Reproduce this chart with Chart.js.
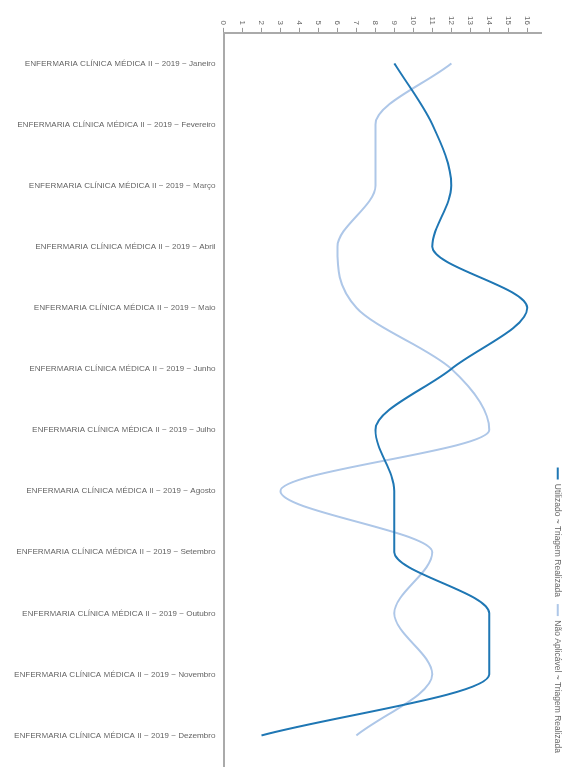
<!DOCTYPE html>
<html>
<head>
<meta charset="utf-8">
<script src="https://cdn.jsdelivr.net/npm/chart.js@4/dist/chart.umd.min.js"></script>
<style>
  html, body { margin: 0; padding: 0; background: #fff; }
  #page { position: relative; width: 571px; height: 779px; overflow: hidden; background: #fff; }
  #rot { position: absolute; left: 0; top: 0; width: 779px; height: 571px;
         transform-origin: 0 0; transform: translate(571px, 0) rotate(90deg); }
</style>
</head>
<body>
<div id="page">
  <div id="rot"><canvas id="c" width="779" height="571"></canvas></div>
</div>
<script>
const categories = [
  "ENFERMARIA CLÍNICA MÉDICA II ~ 2019 ~ Janeiro",
  "ENFERMARIA CLÍNICA MÉDICA II ~ 2019 ~ Fevereiro",
  "ENFERMARIA CLÍNICA MÉDICA II ~ 2019 ~ Março",
  "ENFERMARIA CLÍNICA MÉDICA II ~ 2019 ~ Abril",
  "ENFERMARIA CLÍNICA MÉDICA II ~ 2019 ~ Maio",
  "ENFERMARIA CLÍNICA MÉDICA II ~ 2019 ~ Junho",
  "ENFERMARIA CLÍNICA MÉDICA II ~ 2019 ~ Julho",
  "ENFERMARIA CLÍNICA MÉDICA II ~ 2019 ~ Agosto",
  "ENFERMARIA CLÍNICA MÉDICA II ~ 2019 ~ Setembro",
  "ENFERMARIA CLÍNICA MÉDICA II ~ 2019 ~ Outubro",
  "ENFERMARIA CLÍNICA MÉDICA II ~ 2019 ~ Novembro",
  "ENFERMARIA CLÍNICA MÉDICA II ~ 2019 ~ Dezembro"
];
const seriesNames = ["Utilizado ~ Triagem Realizada", "Não Aplicável ~ Triagem Realizada"];
const utilizado = [9, 11, 12, 11, 16, 12, 8, 9, 9, 14, 14, 2];
const naoAplicavel = [12, 8, 8, 6, 7, 12, 14, 3, 11, 9, 11, 7];
const valueTicks = [0,1,2,3,4,5,6,7,8,9,10,11,12,13,14,15,16];
const valueMax = 16.75;

Chart.defaults.font.family = "'Liberation Sans', Arial, sans-serif";
Chart.defaults.font.size = 8;
Chart.defaults.color = "#666";

const legendShift = {
  id: 'legendShift',
  afterInit(chart) {
    const lg = chart.legend;
    if (lg) {
      const origFit = lg.fit.bind(lg);
      lg.fit = function () { origFit(); this.height += 2; };
    }
  },
  afterLayout(chart) {
    const lg = chart.legend;
    if (lg) { lg.left -= 6; lg.right -= 6; }
  }
};

new Chart(document.getElementById('c'), {
  type: 'line',
  data: {
    labels: categories,
    datasets: [
      { label: seriesNames[0], data: utilizado, borderColor: '#1f77b4', backgroundColor: '#1f77b4',
        borderWidth: 2, pointRadius: 0, cubicInterpolationMode: 'monotone', fill: false },
      { label: seriesNames[1], data: naoAplicavel, borderColor: '#aec7e8', backgroundColor: '#aec7e8',
        borderWidth: 2, pointRadius: 0, cubicInterpolationMode: 'monotone', fill: false }
    ]
  },
  plugins: [legendShift],
  options: {
    responsive: false,
    animation: false,
    devicePixelRatio: 1,
    layout: { padding: { left: 13, right: 13, top: 2, bottom: 6 } },
    plugins: {
      tooltip: { enabled: false },
      legend: {
        position: 'top', align: 'end',
        labels: { usePointStyle: true, pointStyle: 'line', pointStyleWidth: 12, boxHeight: 8,
                  padding: 7, color: '#666', font: { size: 8.5 } }
      }
    },
    scales: {
      x: {
        type: 'category', offset: true,
        grid: { display: false, drawTicks: false },
        border: { display: true, color: '#aaa', width: 2 },
        ticks: { minRotation: 90, maxRotation: 90, padding: 8, color: '#666', font: { size: 8.1 }, autoSkip: false }
      },
      y: {
        min: 0, max: valueMax,
        afterBuildTicks: (scale) => { scale.ticks = valueTicks.map(v => ({ value: v })); },
        grid: { drawOnChartArea: false, drawTicks: true, tickLength: 5, color: '#999' },
        border: { display: true, color: '#aaa', width: 2 },
        ticks: { padding: 3, color: '#666', font: { size: 8 } }
      }
    }
  }
});
</script>
</body>
</html>
